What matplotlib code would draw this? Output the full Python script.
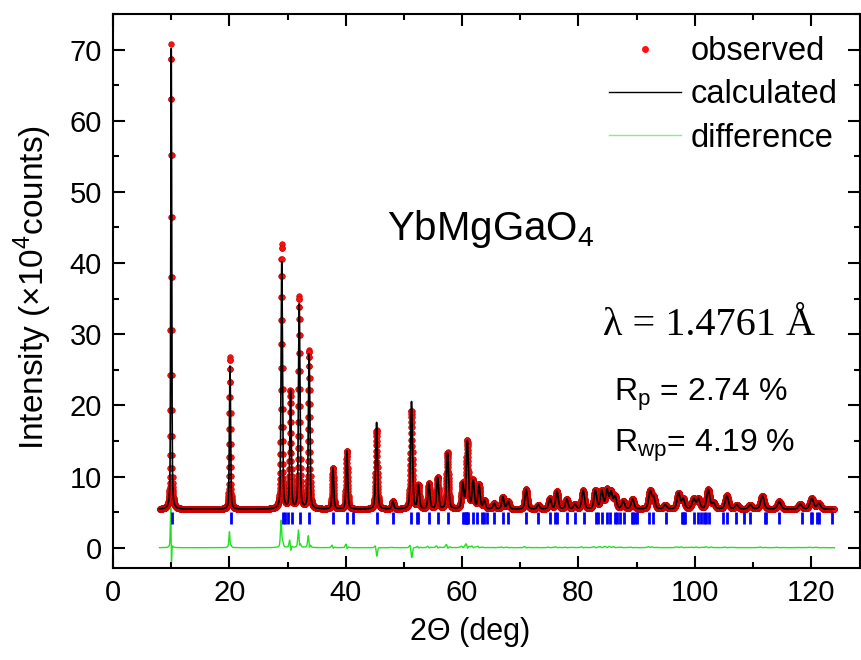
import numpy as np
import matplotlib
matplotlib.use("Agg")
import matplotlib.pyplot as plt
from matplotlib.ticker import MultipleLocator
from matplotlib.lines import Line2D

# peak list (2theta in deg, intensity in 1e4 counts)
peak_pos = [10.0, 20.1, 29.0, 30.5, 32.0, 33.7, 37.8, 40.2, 45.3, 48.1,
            51.3, 52.5, 54.3, 55.8, 57.5, 60.1, 60.9, 61.9, 62.9, 63.8,
            65.5, 67.0, 67.9, 71.0, 73.1, 75.1, 76.3, 78.0, 79.4, 80.8,
            82.9, 84.0, 84.9, 85.6, 86.3, 87.7, 89.3, 92.3, 92.9, 94.9,
            97.2, 98.0, 99.8, 100.6, 102.3, 103.2, 105.5, 107.2, 109.5, 111.6,
            114.5, 118.1, 120.1, 121.3]
obs_top = [70.8, 26.8, 42.6, 21.9, 35.2, 27.7, 11.2, 13.6, 16.5, 6.5,
           19.2, 8.7, 9.0, 9.8, 13.3, 8.9, 14.9, 9.3, 8.8, 6.6,
           6.2, 7.1, 6.5, 8.2, 6.0, 6.9, 7.9, 6.8, 6.1, 8.0,
           8.0, 7.9, 8.0, 7.7, 7.1, 6.5, 6.8, 7.9, 7.0, 6.0,
           7.6, 6.8, 6.8, 6.8, 8.1, 6.2, 7.3, 6.0, 6.0, 7.3,
           6.5, 6.1, 6.9, 6.2]
calc_top = [70.5, 25.6, 40.2, 22.0, 34.2, 27.2, 11.2, 13.6, 17.6, 6.5,
            20.5, 8.7, 9.0, 9.8, 13.3, 8.9, 14.9, 9.3, 8.8, 6.6,
            6.2, 7.1, 6.5, 8.2, 6.0, 6.9, 7.9, 6.8, 6.1, 8.0,
            8.0, 7.9, 8.0, 7.7, 7.1, 6.5, 6.8, 7.9, 7.0, 6.0,
            7.6, 6.8, 6.8, 6.8, 8.1, 6.2, 7.3, 6.0, 6.0, 7.3,
            6.5, 6.1, 6.9, 6.2]
background = 5.4
scan_start, scan_end, scan_step = 8.0, 124.0, 0.02
calc_offset = 0.008   # small zero-shift of the calculated pattern

# Bragg reflection positions (blue ticks)
bragg_pos = [10.1, 20.3, 29.2, 29.6, 30.0, 30.7, 32.1, 33.7, 37.8, 40.2,
             41.2, 45.3, 48.2, 51.3, 52.2, 52.5, 54.3, 55.8, 57.5, 60.2,
             60.4, 60.6, 60.7, 60.9, 61.1, 61.8, 62.6, 63.4, 63.8, 64.3,
             65.5, 67.0, 67.9, 71.0, 73.1, 75.1, 76.0, 76.3, 78.0, 79.4,
             81.0, 83.0, 83.3, 84.1, 84.9, 85.4, 86.2, 86.6, 87.2, 87.8,
             89.2, 89.4, 89.7, 90.0, 92.1, 92.9, 95.0, 97.8, 97.9, 98.1,
             98.3, 99.8, 100.5, 101.1, 101.5, 101.9, 102.5, 104.9, 105.5, 107.0,
             108.4, 109.5, 112.0, 112.2, 114.4, 118.5, 119.9, 120.2, 121.0, 121.3,
             123.5]
bragg_level = 4.2


def profile(tth, tops, width_scale=1.0, shift=0.0):
    y = np.full_like(tth, background)
    for p, h in zip(peak_pos, tops):
        fw = (0.15 + 0.005 * p) * width_scale
        d = (tth - p - shift) / (fw / 2)
        g = np.exp(-np.log(2) * d ** 2)
        lz = 1 / (1 + d ** 2)
        y += (h - background) * (0.6 * g + 0.4 * lz)
    return y


plt.rcParams['font.family'] = ['Liberation Sans', 'DejaVu Sans']

tth = np.arange(scan_start, scan_end + scan_step / 2, scan_step)
y_obs = profile(tth, obs_top)
y_calc = profile(tth, calc_top, 0.95, calc_offset)
y_diff = y_obs - y_calc

fig = plt.figure(figsize=(8.62, 6.6), dpi=100)
ax = fig.add_axes([0.1311, 0.1394, 0.8666, 0.8394])

ax.plot(tth, y_obs, ls='none', marker='o', ms=4, mfc='#ff1010', mec='#cc0000', mew=0.5)
ax.plot(tth, y_calc, color='black', lw=1.2)
ax.plot(tth, y_diff, color='#22e022', lw=1.0)
ax.plot(bragg_pos, [bragg_level] * len(bragg_pos), ls='none', marker='|',
        ms=9, mew=2, color='#0000ff')

ax.set_xlim(0, 128.4)
ax.set_ylim(-2.85, 75)
ax.xaxis.set_major_locator(MultipleLocator(20))
ax.xaxis.set_minor_locator(MultipleLocator(10))
ax.yaxis.set_major_locator(MultipleLocator(10))
ax.yaxis.set_minor_locator(MultipleLocator(5))
ax.tick_params(which='both', direction='in', top=True, right=True, width=1.5,
               labelsize=21, pad=8)
ax.tick_params(which='major', length=8.5)
ax.tick_params(which='minor', length=4.5)
for s in ax.spines.values():
    s.set_linewidth(1.5)

ax.set_xlabel('2Θ (deg)', fontsize=22)
ax.set_ylabel('Intensity (×10$^{\\mathregular{4}}$counts)', fontsize=24)
ax.xaxis.set_label_coords(0.478, -0.088)
ax.yaxis.set_label_coords(-0.079, 0.507)

handles = [Line2D([], [], ls='none', marker='o', ms=4, color='#ff1010'),
           Line2D([], [], color='black', lw=1),
           Line2D([], [], color='#90e890', lw=1)]
fig.legend(handles, ['observed', 'calculated', 'difference'], loc='upper left',
           bbox_to_anchor=(609 / 862, 1 - 36 / 660), frameon=False, fontsize=23.5,
           borderpad=0, borderaxespad=0, handlelength=2.2, handletextpad=0.3,
           labelspacing=0.38, numpoints=1)

fig.text(387 / 862, 1 - 240 / 660, 'YbMgGaO$_\\mathregular{4}$', fontsize=29)
fig.text(603 / 862, 1 - 335 / 660, 'λ = 1.4761 Å', fontsize=29,
         family=['Liberation Serif', 'DejaVu Serif'])
fig.text(614 / 862, 1 - 401 / 660, 'R$_\\mathregular{p}$ = 2.74 %', fontsize=23)
fig.text(614 / 862, 1 - 452 / 660, 'R$_\\mathregular{wp}$= 4.19 %', fontsize=23)

fig.savefig('out.png', dpi=100)
